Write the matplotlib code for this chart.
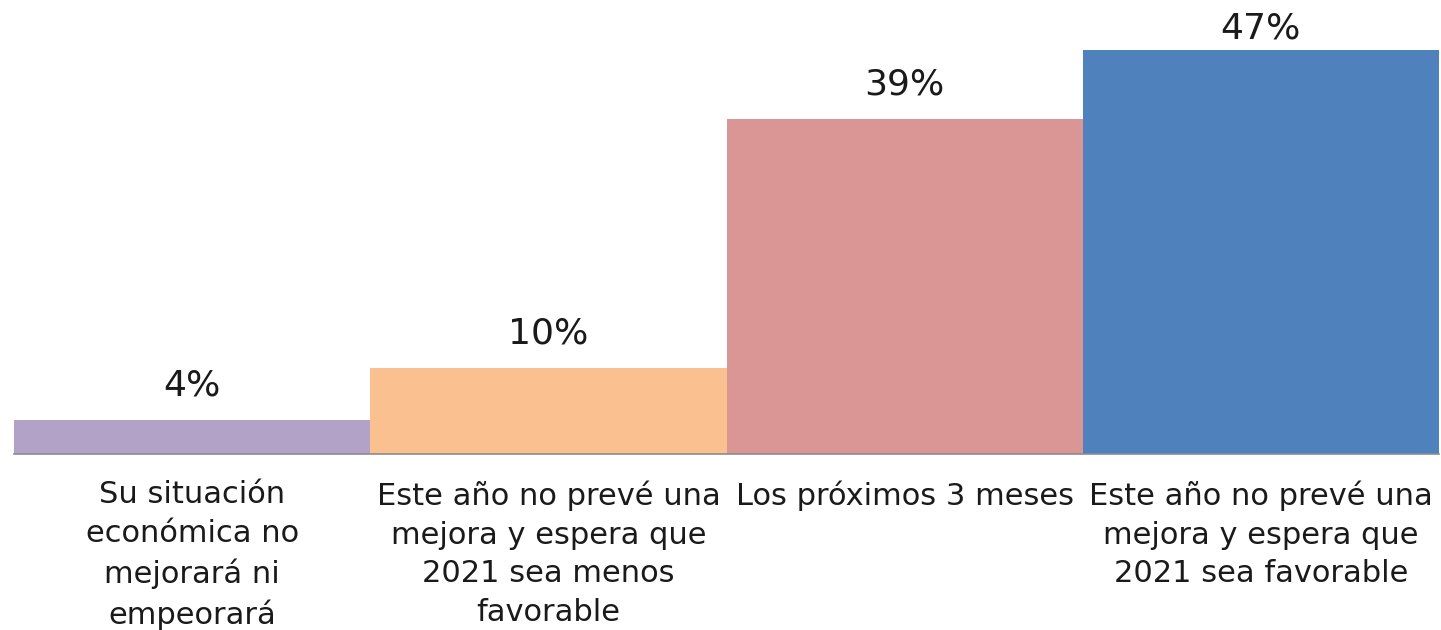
import matplotlib.pyplot as plt

# data
categories = [
    "Su situación\neconómica no\nmejorará ni\nempeorará",
    "Este año no prevé una\nmejora y espera que\n2021 sea menos\nfavorable",
    "Los próximos 3 meses",
    "Este año no prevé una\nmejora y espera que\n2021 sea favorable",
]
values = [4, 10, 39, 47]
colors = ["#B3A2C7", "#FAC090", "#D99694", "#4F81BD"]

plt.rcParams['font.family'] = ['DejaVu Sans']

fig = plt.figure(figsize=(14.41, 6.3), dpi=100)
ax = fig.add_axes([14 / 1441, 176 / 630, 1425 / 1441, 454 / 630])

x = range(len(values))
bars = ax.bar(x, values, width=1.0, color=colors, edgecolor="none")

ymax = 52.8
ax.set_xlim(-0.5, len(values) - 0.5)
ax.set_ylim(0, ymax)

# labels sit a bit above the bar, but get pushed down when near the top edge
for i, v in enumerate(values):
    ly = min(v + 2.0, ymax - 5.3)
    ax.text(i, ly, "{}%".format(v), ha="center", va="bottom",
            fontsize=26, color="#1a1a1a")

for i, lab in enumerate(categories):
    ax.annotate(lab, (i, 0), xytext=(0, -19), textcoords="offset points",
                ha="center", va="top", fontsize=22, color="#1a1a1a", linespacing=1.42)

for s in ["top", "right", "left"]:
    ax.spines[s].set_visible(False)
ax.spines["bottom"].set_color("#8c8c8c")
ax.spines["bottom"].set_linewidth(1.2)
ax.set_xticks([])
ax.set_yticks([])
ax.patch.set_alpha(0)

fig.savefig("out.png", dpi=100)
